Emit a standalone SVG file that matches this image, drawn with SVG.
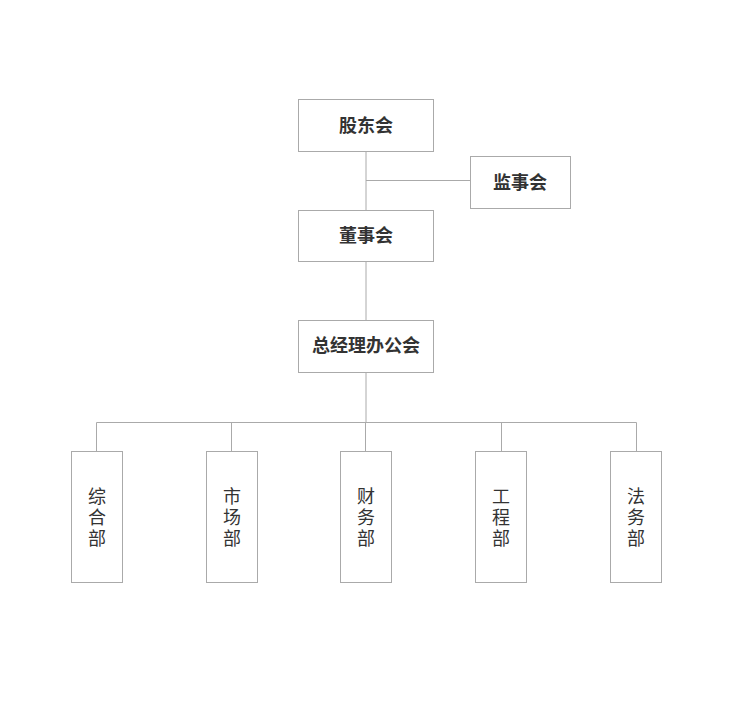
<svg xmlns="http://www.w3.org/2000/svg" width="752" height="702" viewBox="0 0 752 702">
<style>
.b{fill:#fff;stroke:#aaa;stroke-width:1}
.t{font-family:"Noto Sans CJK SC",sans-serif;font-size:18px;fill:#333;text-anchor:middle}
.h{font-weight:bold}
.c{stroke:#aaa;stroke-width:1;fill:none}
</style>
<rect width="752" height="702" fill="#fff"/>
<g id="connectors">
<path class="c" d="M366 151V210M366 180.5H470M366 261V320M366 372V422.5M96.5 422.5H636.5M96.5 422.5V451M231.5 422.5V451M365.5 422.5V451M501.5 422.5V451M636.5 422.5V451"/>
</g>
<g id="n1"><rect class="b" x="298.5" y="99.5" width="135" height="52"/><text class="t h" x="366" y="132">股东会</text></g>
<g id="n2"><rect class="b" x="470.5" y="156.5" width="100" height="52"/><text class="t h" x="520" y="189">监事会</text></g>
<g id="n3"><rect class="b" x="298.5" y="210.5" width="135" height="51"/><text class="t h" x="366" y="242">董事会</text></g>
<g id="n4"><rect class="b" x="298.5" y="320.5" width="135" height="52"/><text class="t h" x="366" y="352">总经理办公会</text></g>
<g id="d1"><rect class="b" x="71.5" y="451.5" width="51" height="131"/><text class="t" x="97" y="503">综<tspan x="97" dy="21">合</tspan><tspan x="97" dy="21">部</tspan></text></g>
<g id="d2"><rect class="b" x="206.5" y="451.5" width="51" height="131"/><text class="t" x="232" y="503">市<tspan x="232" dy="21">场</tspan><tspan x="232" dy="21">部</tspan></text></g>
<g id="d3"><rect class="b" x="340.5" y="451.5" width="51" height="131"/><text class="t" x="366" y="503">财<tspan x="366" dy="21">务</tspan><tspan x="366" dy="21">部</tspan></text></g>
<g id="d4"><rect class="b" x="475.5" y="451.5" width="51" height="131"/><text class="t" x="501" y="503">工<tspan x="501" dy="21">程</tspan><tspan x="501" dy="21">部</tspan></text></g>
<g id="d5"><rect class="b" x="610.5" y="451.5" width="51" height="131"/><text class="t" x="636" y="503">法<tspan x="636" dy="21">务</tspan><tspan x="636" dy="21">部</tspan></text></g>
</svg>
